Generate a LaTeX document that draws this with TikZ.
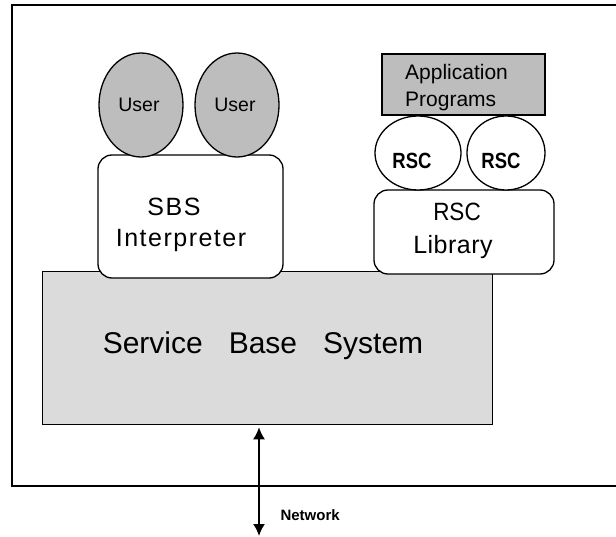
\documentclass[tikz,border=0pt]{standalone}
\usepackage{fontspec}
\setmainfont{Liberation Sans}
\usetikzlibrary{arrows.meta}
\definecolor{darkfill}{gray}{0.74}
\definecolor{lightfill}{gray}{0.86}
\newcommand{\condensed}[2][0.66]{\scalebox{#1}[1]{#2}}
\tikzset{
  frameline/.style={draw=black, line width=1.3pt},
  rbox/.style={draw=black, line width=1.3pt, rounded corners=14pt, fill=white},
  shapeline/.style={draw=black, line width=1.3pt},
}
\begin{document}
\begin{tikzpicture}[x=1pt,y=-1pt]
\useasboundingbox (0,0) rectangle (616,537);
% outer frame (right edge beyond the picture)
\draw[frameline] (630,5) -- (12,5) -- (12,486) -- (630,486);
% Service Base System
\node[shapeline, fill=lightfill, minimum width=450pt, minimum height=153pt, anchor=north west, inner sep=0pt] (sbs) at (42,271) {};
\node[font=\fontsize{30}{32}\selectfont] (sbstext) at (263,346) {Service\hspace{26pt}Base\hspace{26pt}System};
% SBS Interpreter
\draw[rbox] (98,155) rectangle (283,278);
\node[font=\fontsize{25}{30}\selectfont\addfontfeature{LetterSpace=6}] (sbsl) at (174,207) {SBS};
\node[font=\fontsize{25}{30}\selectfont\addfontfeature{LetterSpace=6}] (interp) at (181,240) {Interpreter};
% Users
\draw[shapeline, fill=darkfill] (141,105) ellipse [x radius=42, y radius=52];
\draw[shapeline, fill=darkfill] (237,105) ellipse [x radius=42, y radius=52];
\node[font=\fontsize{19.5}{22}\selectfont] (u1) at (139,105) {User};
\node[font=\fontsize{19.5}{22}\selectfont] (u2) at (235,105) {User};
% RSC Library
\draw[rbox] (374,190) rectangle (554,274);
\node[font=\fontsize{25}{30}\selectfont] (rscl) at (457,212) {\condensed[0.9]{RSC}};
\node[font=\fontsize{25}{30}\selectfont\addfontfeature{LetterSpace=2}] (lib) at (453,247) {Library};
% RSC circles
\draw[shapeline, fill=white] (418,153) ellipse [x radius=43, y radius=37];
\draw[shapeline, fill=white] (506,153) ellipse [x radius=39, y radius=37];
\node[font=\bfseries\fontsize{22}{24}\selectfont] (r1) at (412,161) {\condensed[0.84]{RSC}};
\node[font=\bfseries\fontsize{22}{24}\selectfont] (r2) at (501,161) {\condensed[0.84]{RSC}};
% Application Programs
\draw[shapeline, fill=darkfill] (382,54) rectangle (545,115);
\node[font=\fontsize{21}{24}\selectfont, anchor=west, inner sep=0pt] (app) at (405,74) {Application};
\node[font=\fontsize{21}{24}\selectfont, anchor=west, inner sep=0pt] (prog) at (405,101) {Programs};
% Network arrow
\coordinate (netend) at (259,536);
\draw[line width=1.6pt, {Latex[length=12pt,width=12pt]}-{Latex[length=12pt,width=12pt]}] (sbs.south -| netend) ++(0,2) -- (netend);
\node[font=\bfseries\fontsize{15}{16}\selectfont, anchor=west] (net) at (277,515) {Network};
\end{tikzpicture}
\end{document}
